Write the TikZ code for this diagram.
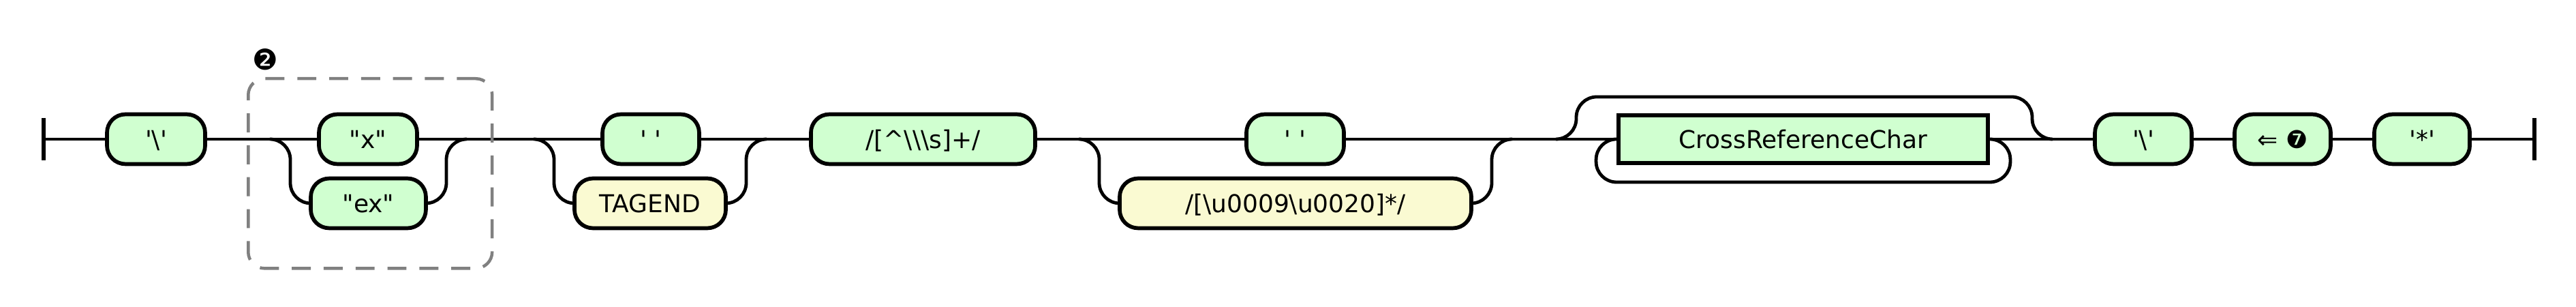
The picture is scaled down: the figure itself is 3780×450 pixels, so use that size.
\documentclass[tikz,border=0pt]{standalone}
\usepackage{fontspec}
\newfontfamily\rrfont{DejaVu Sans}
\usetikzlibrary{calc}
\definecolor{termgreen}{RGB}{208,255,208}
\definecolor{termyellow}{RGB}{250,250,210}
\tikzset{
  rail/.style={line width=1.6pt, rounded corners=10pt},
  endbar/.style={line width=2.1pt},
  term/.style={draw, line width=1.9pt, fill=termgreen, rounded corners=9pt,
    minimum height=24.3pt, inner sep=0pt, font=\rrfont\fontsize{12}{14}\selectfont,
    text height=8.75pt, text depth=0pt},
  termalt/.style={term, fill=termyellow},
  nonterm/.style={draw, line width=1.9pt, fill=termgreen, minimum height=23.3pt,
    inner sep=0pt, font=\rrfont\fontsize{12}{14}\selectfont,
    text height=8.75pt, text depth=0pt},
  group/.style={draw=gray, line width=1.5pt, dash pattern=on 9.3pt off 6.3pt,
    rounded corners=8pt},
}

\begin{document}
\begin{tikzpicture}[x=0.3333pt, y=-0.3333pt]
    \useasboundingbox (0,0) rectangle (3780,450);

    % boxes on the main line
    \node[term, minimum width=48pt] (bs1) at (229,204) {'\textbackslash'};
    \node[term, minimum width=48pt] (qx) at (540,204) {"x"};
    \node[term, minimum width=47.3pt] (sp1) at (955,204) {' '};
    \node[term, minimum width=109.7pt] (rx1) at (1354.5,204) {/[\textasciicircum\textbackslash\textbackslash\textbackslash s]+/};
    \node[term, minimum width=47.7pt] (sp2) at (1900.5,204) {' '};
    \node[nonterm, minimum width=180.7pt] (crc) at (2646,204) {CrossReferenceChar};
    \node[term, minimum width=47.3pt] (bs2) at (3145,204) {'\textbackslash'};
    \node[term, minimum width=47pt] (back) at (3349.5,204) {⇐ ❼};
    \node[term, minimum width=46.7pt] (star) at (3554,204) {'*'};

    % boxes on the lower branches
    \node[term, minimum width=56.3pt] (qex) at (540.5,298) {"ex"};
    \node[termalt, minimum width=74pt] (tagend) at (954,298) {TAGEND};
    \node[termalt, minimum width=172pt] (ws) at (1901,298) {/[\textbackslash u0009\textbackslash u0020]*/};

    % split and join points
    \coordinate (start) at (64,204);
    \coordinate (s1) at (396,204);
    \coordinate (j1) at (685,204);
    \coordinate (s2) at (783,204);
    \coordinate (j2) at (1125,204);
    \coordinate (s3) at (1583,204);
    \coordinate (j3) at (2219,204);
    \coordinate (s4) at (2283,204);
    \coordinate (j4) at (3012,204);
    \coordinate (stop) at (3719,204);

    % main line
    \draw[rail] (start) -- (bs1.west);
    \draw[rail] (bs1.east) -- (qx.west);
    \draw[rail] (qx.east) -- (sp1.west);
    \draw[rail] (sp1.east) -- (rx1.west);
    \draw[rail] (rx1.east) -- (sp2.west);
    \draw[rail] (sp2.east) -- (crc.west);
    \draw[rail] (crc.east) -- (bs2.west);
    \draw[rail] (bs2.east) -- (back.west);
    \draw[rail] (back.east) -- (star.west);
    \draw[rail] (star.east) -- (stop);

    % start and end bars
    \draw[endbar] (start) ++(0,-31) -- ++(0,62);
    \draw[endbar] (stop) ++(0,-31) -- ++(0,62);

    % alternatives
    \draw[rail] (s1) -- ++(30,0) |- (qex.west);
    \draw[rail] (j1) -- ++(-30,0) |- (qex.east);
    \draw[rail] (s2) -- ++(30,0) |- (tagend.west);
    \draw[rail] (j2) -- ++(-30,0) |- (tagend.east);
    \draw[rail] (s3) -- ++(30,0) |- (ws.west);
    \draw[rail] (j3) -- ++(-30,0) |- (ws.east);

    % bypass over CrossReferenceChar
    \draw[rail] (s4) -- ++(30,0) |- ($(j4)+(-30,-62)$) -- ++(0,62) -- (j4);
    % repetition of CrossReferenceChar
    \draw[rail] (crc.east) -- ++(30,0) |- ($(crc.west)+(-30,63)$) |- (crc.west);

    % group 2
    \node[group, anchor=north west, minimum width=119.3pt, minimum height=92.7pt] (grp2) at (362,113) {};
    \node[font=\rrfont\fontsize{14}{14}\selectfont, inner sep=0pt] (mark2) at (389,87) {❷};
\end{tikzpicture}
\end{document}
